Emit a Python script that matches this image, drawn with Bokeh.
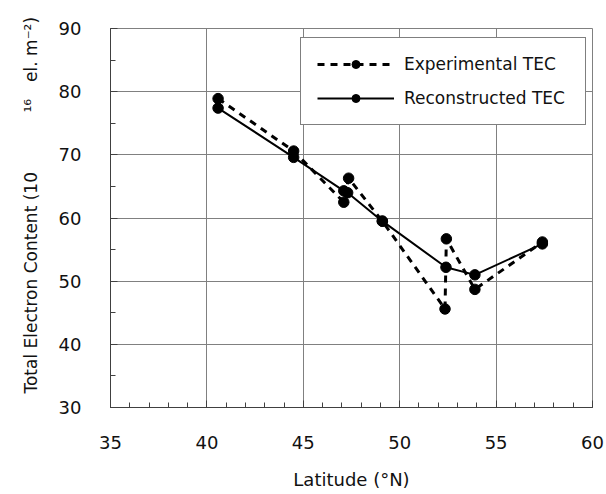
from bokeh.plotting import figure
from bokeh.models import (Range1d, SingleIntervalTicker, Legend, LegendItem, ColumnDataSource)
from bokeh.embed import file_html
from bokeh.resources import INLINE

# Data
exp_lat = [40.58, 44.5, 47.1, 47.35, 49.1, 52.35, 52.42, 53.9, 57.4]
exp_tec = [78.9, 70.6, 62.5, 66.3, 59.5, 45.6, 56.7, 48.7, 56.2]
rec_lat = [40.58, 44.5, 47.1, 47.3, 49.1, 52.4, 53.9, 57.4]
rec_tec = [77.4, 69.6, 64.3, 64.0, 59.5, 52.2, 51.0, 55.9]

x_ticks = [35, 40, 45, 50, 55, 60]
y_ticks = [30, 40, 50, 60, 70, 80, 90]

FONT = "DejaVu Sans"
SP = "\u2002"

p = figure(width=606, height=494, output_backend="svg", toolbar_location=None,
           x_range=Range1d(x_ticks[0], x_ticks[-1]), y_range=Range1d(y_ticks[0], y_ticks[-1]),
           min_border_left=110, min_border_right=14, min_border_top=28, min_border_bottom=87)
p.background_fill_color = "white"
p.border_fill_color = "white"
p.outline_line_color = "#808080"
p.outline_line_width = 1

p.xaxis.ticker = SingleIntervalTicker(interval=5, num_minor_ticks=5)
p.yaxis.ticker = SingleIntervalTicker(interval=10, num_minor_ticks=2)
p.xgrid.ticker = p.xaxis.ticker
p.ygrid.ticker = p.yaxis.ticker
for g in (p.xgrid, p.ygrid):
    g.grid_line_color = "#808080"
    g.grid_line_width = 1

for ax in (p.xaxis, p.yaxis):
    ax.axis_line_color = "#404040"
    ax.axis_line_width = 1
    ax.major_tick_in = 7
    ax.major_tick_out = 0
    ax.minor_tick_in = 5
    ax.minor_tick_out = 0
    ax.major_tick_line_color = "#404040"
    ax.minor_tick_line_color = "#404040"
    ax.major_label_text_font = FONT
    ax.major_label_text_font_size = "18px"
    ax.major_label_text_color = "#111111"
    ax.axis_label_text_font = FONT
    ax.axis_label_text_font_style = "normal"
    ax.axis_label_text_color = "#111111"

p.xaxis.major_label_standoff = 28
p.yaxis.major_label_standoff = 29
p.xaxis.axis_label = "Latitude (°N)"
p.xaxis.axis_label_text_font_size = "18px"
p.xaxis.axis_label_standoff = 17
p.yaxis.axis_label = SP * 3 + "Total Electron Content (10" + SP * 7 + "¹⁶" + SP * 2 + "el. m⁻²)"
p.yaxis.axis_label_text_font_size = "17px"
p.yaxis.axis_label_standoff = 15

exp_src = ColumnDataSource(dict(x=exp_lat, y=exp_tec))
rec_src = ColumnDataSource(dict(x=rec_lat, y=rec_tec))

el = p.line("x", "y", source=exp_src, line_color="black", line_width=3, line_dash="7 6")
es = p.scatter("x", "y", source=exp_src, size=10.5, color="black")
rl = p.line("x", "y", source=rec_src, line_color="black", line_width=2)
rs = p.scatter("x", "y", source=rec_src, size=10.5, color="black")

legend = Legend(items=[LegendItem(label="Experimental TEC", renderers=[el, es]),
                       LegendItem(label="Reconstructed TEC", renderers=[rl, rs])],
                location=(190, 282), margin=0, padding=16, spacing=14,
                glyph_width=77, glyph_height=20, label_standoff=10,
                label_width=165, label_height=20,
                label_text_font=FONT, label_text_font_size="17px", label_text_color="#111111",
                border_line_color="black", border_line_width=1, background_fill_color="white",
                background_fill_alpha=1)
p.add_layout(legend, "center")

open("out.html", "w").write(file_html(p, INLINE))
